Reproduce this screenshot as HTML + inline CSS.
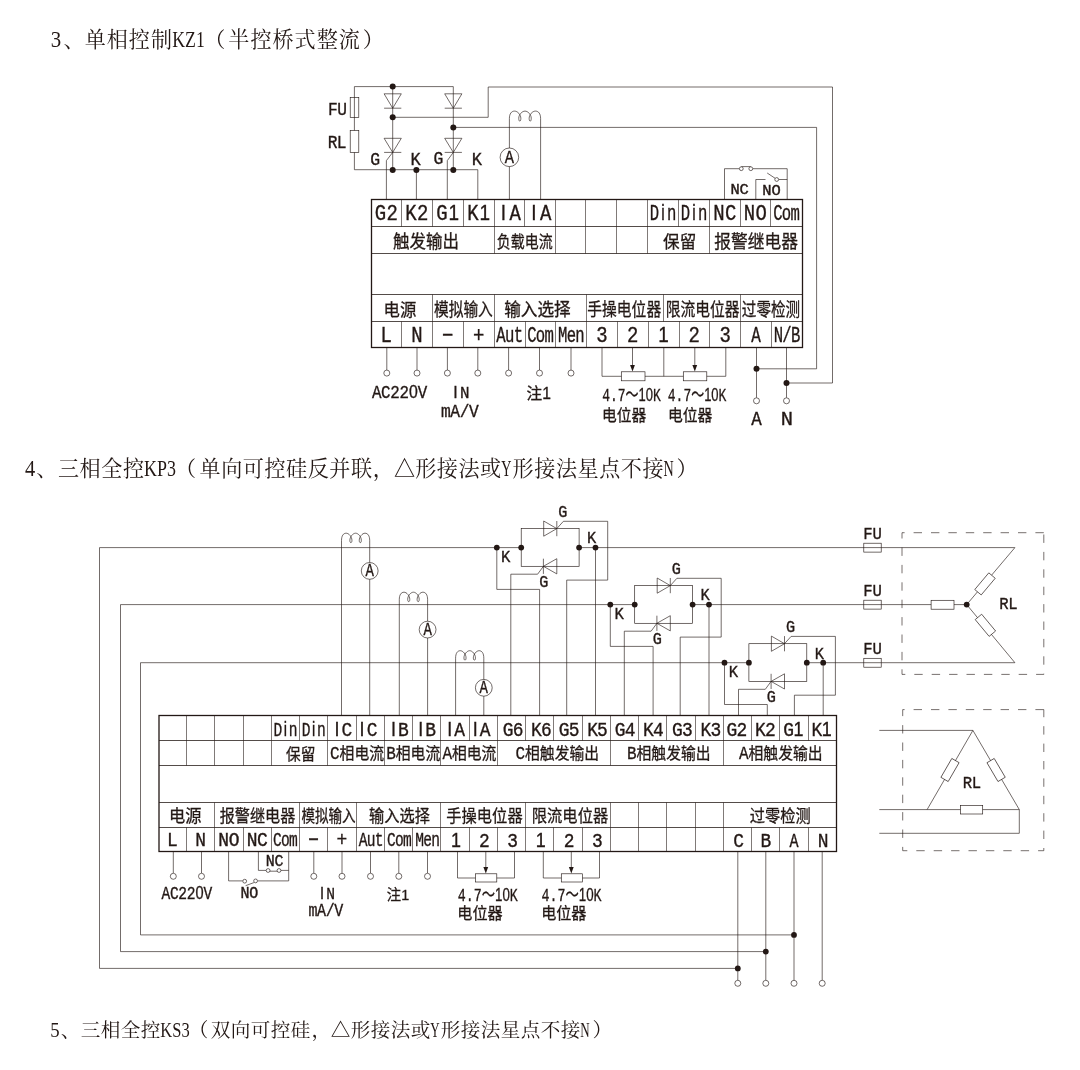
<!DOCTYPE html>
<html lang="zh-CN"><head><meta charset="utf-8"><title>接线图</title>
<style>
html,body{margin:0;padding:0;background:#fff}
svg{display:block}
.w{fill:none;stroke:#231815;stroke-width:0.64;stroke-linejoin:miter;stroke-linecap:butt}
.x{font-family:"Liberation Mono","Noto Sans CJK SC",monospace;fill:#231815;text-anchor:middle;stroke:#231815;stroke-width:.36;opacity:.999}
.x .b{stroke-width:.44}
.x .s{font-family:"Liberation Sans",sans-serif}
.c{font-family:"Liberation Sans","Noto Sans CJK SC",sans-serif;text-anchor:start;stroke-width:.3}
.m{font-family:"Liberation Mono","Noto Sans CJK SC",monospace;text-anchor:start;stroke-width:.3}
.t{font-family:"Liberation Serif","Noto Serif CJK SC",serif;text-anchor:start;font-weight:400;stroke:none}
</style></head><body>
<svg width="1080" height="1070" viewBox="0 0 1080 1070">
<rect width="1080" height="1070" fill="#fff"/>
<g class="w">
<path d="M453.3 86.6 L354.4 86.6 L354.4 169.7 L477.8 169.7 L477.8 199.4"/>
<rect x="350.2" y="97.4" width="8.6" height="20.2" fill="none"/>
<rect x="350.2" y="130.5" width="8.6" height="21.9" fill="#fff"/>
<path d="M392.7 86.6 L392.7 170"/>
<path d="M384.1 93.8 L401.3 93.8 L392.7 108.2 L384.1 93.8" fill="none"/>
<path d="M384.1 108.2 L401.3 108.2"/>
<path d="M384.1 138.3 L401.3 138.3 L392.7 152.4 L384.1 138.3" fill="none"/>
<path d="M384.1 152.4 L401.3 152.4"/>
<path d="M453.3 86.6 L453.3 170"/>
<path d="M444.7 93.8 L461.9 93.8 L453.3 108.2 L444.7 93.8" fill="none"/>
<path d="M444.7 108.2 L461.9 108.2"/>
<path d="M444.7 138.3 L461.9 138.3 L453.3 152.4 L444.7 138.3" fill="none"/>
<path d="M444.7 152.4 L461.9 152.4"/>
<path d="M392.7 152.4 L386.4 160.6 L386.4 199.4"/>
<path d="M453.3 152.4 L447.3 160.6 L447.3 199.4"/>
<path d="M416.4 170 L416.4 199.4"/>
<circle cx="392.7" cy="86.6" r="3" fill="#231815" stroke="none"/>
<circle cx="392.7" cy="117.3" r="3" fill="#231815" stroke="none"/>
<circle cx="453.3" cy="127.4" r="3" fill="#231815" stroke="none"/>
<circle cx="392.7" cy="170" r="3" fill="#231815" stroke="none"/>
<circle cx="416.4" cy="170" r="3" fill="#231815" stroke="none"/>
<circle cx="453.3" cy="170" r="3" fill="#231815" stroke="none"/>
<path d="M392.7 117.3 L488.2 117.3 L488.2 87 L832.5 87 L832.5 383 L786.5 383"/>
<path d="M453.3 127.4 L816.6 127.4 L816.6 368.8 L756.5 368.8"/>
<path d="M509.4 199.4 L509.4 118.6 C509.4 113.6 511.48 111.1 514.6 111.1 C517.51 111.1 520.85 114.6 520.85 118.3 C520.85 122.1 518.75 122.1 518.75 118.3 C518.75 114.6 522.09 111.1 525 111.1 C527.91 111.1 531.25 114.6 531.25 118.3 C531.25 122.1 529.15 122.1 529.15 118.3 C529.15 114.6 532.49 111.1 535.4 111.1 C538.52 111.1 540.6 113.6 540.6 118.6 L540.6 199.4"/>
<circle cx="509.4" cy="157.3" r="9.3" fill="#fff"/>
<path d="M724.5 199.4 L724.5 168.7 L739.2 168.7"/>
<path d="M752.9 168.7 L787.2 168.7 L787.2 199.4"/>
<path d="M741.3 166.6 L750.8 166.6"/>
<circle cx="741.3" cy="168.7" r="1.9" fill="#fff"/>
<circle cx="750.8" cy="168.7" r="1.9" fill="#fff"/>
<path d="M755.8 199.4 L755.8 179.5 L765.5 179.5"/>
<path d="M767.2 173 L775.6 178.6"/>
<path d="M778.7 179.5 L787.2 179.5"/>
<circle cx="776.7" cy="179.5" r="1.9" fill="#fff"/>
<path d="M371.5 226.5 L802.5 226.5" stroke-width="0.78"/>
<path d="M371.5 253.5 L802.5 253.5" stroke-width="0.78"/>
<path d="M371.5 294.5 L802.5 294.5" stroke-width="0.78"/>
<path d="M371.5 321.5 L802.5 321.5" stroke-width="0.78"/>
<path d="M401.5 199.5 L401.5 226.5" stroke-width="0.58"/>
<path d="M432.5 199.5 L432.5 226.5" stroke-width="0.58"/>
<path d="M463.5 199.5 L463.5 226.5" stroke-width="0.58"/>
<path d="M494.5 199.5 L494.5 226.5" stroke-width="0.58"/>
<path d="M524.5 199.5 L524.5 226.5" stroke-width="0.58"/>
<path d="M555.5 199.5 L555.5 226.5" stroke-width="0.58"/>
<path d="M585.5 199.5 L585.5 226.5" stroke-width="0.58"/>
<path d="M616.5 199.5 L616.5 226.5" stroke-width="0.58"/>
<path d="M647.5 199.5 L647.5 226.5" stroke-width="0.58"/>
<path d="M678.5 199.5 L678.5 226.5" stroke-width="0.58"/>
<path d="M709.5 199.5 L709.5 226.5" stroke-width="0.58"/>
<path d="M740.5 199.5 L740.5 226.5" stroke-width="0.58"/>
<path d="M770.5 199.5 L770.5 226.5" stroke-width="0.58"/>
<path d="M494.5 226.5 L494.5 253.5" stroke-width="0.58"/>
<path d="M555.5 226.5 L555.5 253.5" stroke-width="0.58"/>
<path d="M585.5 226.5 L585.5 253.5" stroke-width="0.58"/>
<path d="M616.5 226.5 L616.5 253.5" stroke-width="0.58"/>
<path d="M647.5 226.5 L647.5 253.5" stroke-width="0.58"/>
<path d="M709.5 226.5 L709.5 253.5" stroke-width="0.58"/>
<path d="M432.5 294.5 L432.5 321.5" stroke-width="0.58"/>
<path d="M494.5 294.5 L494.5 321.5" stroke-width="0.58"/>
<path d="M586.5 294.5 L586.5 321.5" stroke-width="0.58"/>
<path d="M663.5 294.5 L663.5 321.5" stroke-width="0.58"/>
<path d="M740.5 294.5 L740.5 321.5" stroke-width="0.58"/>
<path d="M401.5 321.5 L401.5 347.5" stroke-width="0.58"/>
<path d="M432.5 321.5 L432.5 347.5" stroke-width="0.58"/>
<path d="M463.5 321.5 L463.5 347.5" stroke-width="0.58"/>
<path d="M494.5 321.5 L494.5 347.5" stroke-width="0.58"/>
<path d="M525.5 321.5 L525.5 347.5" stroke-width="0.58"/>
<path d="M555.5 321.5 L555.5 347.5" stroke-width="0.58"/>
<path d="M586.5 321.5 L586.5 347.5" stroke-width="0.58"/>
<path d="M617.5 321.5 L617.5 347.5" stroke-width="0.58"/>
<path d="M648.5 321.5 L648.5 347.5" stroke-width="0.58"/>
<path d="M679.5 321.5 L679.5 347.5" stroke-width="0.58"/>
<path d="M709.5 321.5 L709.5 347.5" stroke-width="0.58"/>
<path d="M740.5 321.5 L740.5 347.5" stroke-width="0.58"/>
<path d="M771.5 321.5 L771.5 347.5" stroke-width="0.58"/>
<rect x="371.5" y="199.5" width="431" height="148" fill="none" stroke-width="1.3"/>
<path d="M386.8 347.6 L386.8 370"/>
<circle cx="386.8" cy="373.1" r="3" fill="#fff"/>
<path d="M417 347.6 L417 370"/>
<circle cx="417" cy="373.1" r="3" fill="#fff"/>
<path d="M447.4 347.6 L447.4 370"/>
<circle cx="447.4" cy="373.1" r="3" fill="#fff"/>
<path d="M477.8 347.6 L477.8 370"/>
<circle cx="477.8" cy="373.1" r="3" fill="#fff"/>
<path d="M508.6 347.6 L508.6 370"/>
<circle cx="508.6" cy="373.1" r="3" fill="#fff"/>
<path d="M539.5 347.6 L539.5 370"/>
<circle cx="539.5" cy="373.1" r="3" fill="#fff"/>
<path d="M571 347.6 L571 370"/>
<circle cx="571" cy="373.1" r="3" fill="#fff"/>
<path d="M602 347.6 L602 376.3 L725.8 376.3 L725.8 347.6"/>
<path d="M663.8 347.6 L663.8 376.3"/>
<rect x="621.3" y="371.8" width="23.7" height="9" fill="#fff"/>
<path d="M632.5 347.6 L632.5 368.8"/>
<path d="M630.1 365 L634.9 365 L632.5 371.6 Z" fill="#231815" stroke="none"/>
<rect x="683.3" y="371.8" width="23.5" height="9" fill="#fff"/>
<path d="M694.8 347.6 L694.8 368.8"/>
<path d="M692.4 365 L697.2 365 L694.8 371.6 Z" fill="#231815" stroke="none"/>
<path d="M756.5 347.6 L756.5 397.8"/>
<path d="M786.5 347.6 L786.5 397.8"/>
<circle cx="756.5" cy="368.8" r="3" fill="#231815" stroke="none"/>
<circle cx="786.5" cy="383" r="3" fill="#231815" stroke="none"/>
<circle cx="756.5" cy="400.8" r="3" fill="#fff"/>
<circle cx="786.5" cy="400.8" r="3" fill="#fff"/>
<path d="M794 934.9 L140.5 934.9 L140.5 662.7 L724.5 662.7"/>
<path d="M765.8 951.6 L120.5 951.6 L120.5 604.6 L610.3 604.6"/>
<path d="M737.8 968.4 L99.5 968.4 L99.5 547.6 L496.8 547.6"/>
<path d="M496.8 547.6 L521.2 547.6"/>
<path d="M579.1 547.6 L595.5 547.6"/>
<rect x="521.2" y="528.6" width="57.9" height="37.7" fill="none"/>
<path d="M543.7 521 L543.7 536.2 L556.8 528.6 L543.7 521" fill="none"/>
<path d="M556.8 521 L556.8 536.2"/>
<path d="M556.8 528.6 L563.4 521.3 L607.7 521.3 L607.7 580.1 L566.7 580.1 L566.7 715.7"/>
<path d="M556.8 558.7 L556.8 573.9 L543.4 566.3 L556.8 558.7" fill="none"/>
<path d="M543.4 558.7 L543.4 573.9"/>
<path d="M543.4 566.3 L537.6 574.2 L510.8 574.2 L510.8 715.7"/>
<path d="M496.8 547.6 L496.8 589.4 L539.6 589.4 L539.6 715.7"/>
<path d="M595.5 547.6 L595.5 715.7"/>
<circle cx="496.8" cy="547.6" r="2.9" fill="#231815" stroke="none"/>
<circle cx="521.2" cy="547.6" r="2.9" fill="#231815" stroke="none"/>
<circle cx="579.1" cy="547.6" r="2.9" fill="#231815" stroke="none"/>
<circle cx="595.5" cy="547.6" r="2.9" fill="#231815" stroke="none"/>
<path d="M595.5 547.6 L881.2 547.6"/>
<rect x="863.8" y="543.2" width="17.4" height="8.9" fill="none"/>
<path d="M610.3 604.6 L634.7 604.6"/>
<path d="M692.6 604.6 L709 604.6"/>
<rect x="634.7" y="585.6" width="57.9" height="37.7" fill="none"/>
<path d="M657.2 578 L657.2 593.2 L670.3 585.6 L657.2 578" fill="none"/>
<path d="M670.3 578 L670.3 593.2"/>
<path d="M670.3 585.6 L676.9 578.3 L721.2 578.3 L721.2 637.1 L680.2 637.1 L680.2 715.7"/>
<path d="M670.3 615.7 L670.3 630.9 L656.9 623.3 L670.3 615.7" fill="none"/>
<path d="M656.9 615.7 L656.9 630.9"/>
<path d="M656.9 623.3 L651.1 631.2 L624.3 631.2 L624.3 715.7"/>
<path d="M610.3 604.6 L610.3 646.4 L653.1 646.4 L653.1 715.7"/>
<path d="M709 604.6 L709 715.7"/>
<circle cx="610.3" cy="604.6" r="2.9" fill="#231815" stroke="none"/>
<circle cx="634.7" cy="604.6" r="2.9" fill="#231815" stroke="none"/>
<circle cx="692.6" cy="604.6" r="2.9" fill="#231815" stroke="none"/>
<circle cx="709" cy="604.6" r="2.9" fill="#231815" stroke="none"/>
<path d="M709 604.6 L881.2 604.6"/>
<rect x="863.8" y="600.2" width="17.4" height="8.9" fill="none"/>
<path d="M724.5 662.7 L748.9 662.7"/>
<path d="M806.8 662.7 L823.2 662.7"/>
<rect x="748.9" y="643.7" width="57.9" height="37.7" fill="none"/>
<path d="M771.4 636.1 L771.4 651.3 L784.5 643.7 L771.4 636.1" fill="none"/>
<path d="M784.5 636.1 L784.5 651.3"/>
<path d="M784.5 643.7 L791.1 636.4 L835.4 636.4 L835.4 695.2 L794.4 695.2 L794.4 715.7"/>
<path d="M784.5 673.8 L784.5 689 L771.1 681.4 L784.5 673.8" fill="none"/>
<path d="M771.1 673.8 L771.1 689"/>
<path d="M771.1 681.4 L765.3 689.3 L738.5 689.3 L738.5 715.7"/>
<path d="M724.5 662.7 L724.5 704.5 L767.3 704.5 L767.3 715.7"/>
<path d="M823.2 662.7 L823.2 715.7"/>
<circle cx="724.5" cy="662.7" r="2.9" fill="#231815" stroke="none"/>
<circle cx="748.9" cy="662.7" r="2.9" fill="#231815" stroke="none"/>
<circle cx="806.8" cy="662.7" r="2.9" fill="#231815" stroke="none"/>
<circle cx="823.2" cy="662.7" r="2.9" fill="#231815" stroke="none"/>
<path d="M823.2 662.7 L881.2 662.7"/>
<rect x="863.8" y="658.3" width="17.4" height="8.9" fill="none"/>
<path d="M341.5 715.7 L341.5 540.7 C341.5 535.7 343.38 533.2 346.2 533.2 C348.83 533.2 351.95 536.7 351.95 540.4 C351.95 543.4 349.85 543.4 349.85 540.4 C349.85 536.7 352.97 533.2 355.6 533.2 C358.23 533.2 361.35 536.7 361.35 540.4 C361.35 543.4 359.25 543.4 359.25 540.4 C359.25 536.7 362.37 533.2 365 533.2 C367.82 533.2 369.7 535.7 369.7 540.7 L369.7 715.7"/>
<circle cx="369.7" cy="570.9" r="8.4" fill="#fff"/>
<path d="M399.3 715.7 L399.3 599.7 C399.3 594.7 401.19 592.2 404.02 592.2 C406.66 592.2 409.78 595.7 409.78 599.4 C409.78 602.4 407.68 602.4 407.68 599.4 C407.68 595.7 410.81 592.2 413.45 592.2 C416.09 592.2 419.22 595.7 419.22 599.4 C419.22 602.4 417.12 602.4 417.12 599.4 C417.12 595.7 420.24 592.2 422.88 592.2 C425.71 592.2 427.6 594.7 427.6 599.7 L427.6 715.7"/>
<circle cx="427.6" cy="629.6" r="8.4" fill="#fff"/>
<path d="M455.6 715.7 L455.6 658.2 C455.6 653.2 457.48 650.7 460.3 650.7 C462.93 650.7 466.05 654.2 466.05 657.9 C466.05 660.9 463.95 660.9 463.95 657.9 C463.95 654.2 467.07 650.7 469.7 650.7 C472.33 650.7 475.45 654.2 475.45 657.9 C475.45 660.9 473.35 660.9 473.35 657.9 C473.35 654.2 476.47 650.7 479.1 650.7 C481.92 650.7 483.8 653.2 483.8 658.2 L483.8 715.7"/>
<circle cx="483.8" cy="687.8" r="8.4" fill="#fff"/>
<path d="M1043.8 532.7 H902 V674.4 H1043.8 Z" fill="none" stroke-dasharray="8.4 9" stroke-width="0.62"/>
<path d="M881.2 547.6 L1014.9 547.6 L966.7 604.6"/>
<path d="M881.2 662.7 L1014.9 662.7 L966.7 604.6"/>
<path d="M881.2 604.6 L966.7 604.6"/>
<rect x="931.1" y="600.3" width="22.9" height="8.9" fill="#fff"/>
<rect x="974.1" y="579.7" width="21.8" height="8.4" fill="#fff" transform="rotate(-49.9 985 583.9)"/>
<rect x="974.5" y="621.1" width="21.8" height="8.4" fill="#fff" transform="rotate(50.3 985.4 625.3)"/>
<circle cx="966.7" cy="604.6" r="2.9" fill="#231815" stroke="none"/>
<path d="M1043.8 709.6 H902.7 V850.7 H1043.8 Z" fill="none" stroke-dasharray="8.4 9" stroke-width="0.62"/>
<path d="M879.3 730.4 L972.9 730.4"/>
<path d="M879.3 809.6 L1019.3 809.6 L972.9 730.4 L927.1 809.6" fill="none"/>
<path d="M879.3 833.3 L1019.3 833.3 L1019.3 809.6"/>
<rect x="960.4" y="805.5" width="22.3" height="8.5" fill="#fff"/>
<rect x="939.1" y="765.8" width="21.8" height="8.4" fill="#fff" transform="rotate(-60 950 770)"/>
<rect x="985.2" y="765.8" width="21.8" height="8.4" fill="#fff" transform="rotate(59.6 996.1 770)"/>
<path d="M159 740.5 L836.5 740.5" stroke-width="0.78"/>
<path d="M159 765.5 L836.5 765.5" stroke-width="0.78"/>
<path d="M159 802.5 L836.5 802.5" stroke-width="0.78"/>
<path d="M159 827.5 L836.5 827.5" stroke-width="0.78"/>
<path d="M186.5 715.5 L186.5 740.5" stroke-width="0.58"/>
<path d="M214.5 715.5 L214.5 740.5" stroke-width="0.58"/>
<path d="M243.5 715.5 L243.5 740.5" stroke-width="0.58"/>
<path d="M271.5 715.5 L271.5 740.5" stroke-width="0.58"/>
<path d="M299.5 715.5 L299.5 740.5" stroke-width="0.58"/>
<path d="M327.5 715.5 L327.5 740.5" stroke-width="0.58"/>
<path d="M356.5 715.5 L356.5 740.5" stroke-width="0.58"/>
<path d="M384.5 715.5 L384.5 740.5" stroke-width="0.58"/>
<path d="M412.5 715.5 L412.5 740.5" stroke-width="0.58"/>
<path d="M440.5 715.5 L440.5 740.5" stroke-width="0.58"/>
<path d="M469.5 715.5 L469.5 740.5" stroke-width="0.58"/>
<path d="M497.5 715.5 L497.5 740.5" stroke-width="0.58"/>
<path d="M525.5 715.5 L525.5 740.5" stroke-width="0.58"/>
<path d="M553.5 715.5 L553.5 740.5" stroke-width="0.58"/>
<path d="M582.5 715.5 L582.5 740.5" stroke-width="0.58"/>
<path d="M610.5 715.5 L610.5 740.5" stroke-width="0.58"/>
<path d="M638.5 715.5 L638.5 740.5" stroke-width="0.58"/>
<path d="M666.5 715.5 L666.5 740.5" stroke-width="0.58"/>
<path d="M695.5 715.5 L695.5 740.5" stroke-width="0.58"/>
<path d="M723.5 715.5 L723.5 740.5" stroke-width="0.58"/>
<path d="M751.5 715.5 L751.5 740.5" stroke-width="0.58"/>
<path d="M779.5 715.5 L779.5 740.5" stroke-width="0.58"/>
<path d="M808.5 715.5 L808.5 740.5" stroke-width="0.58"/>
<path d="M186.5 740.5 L186.5 765.5" stroke-width="0.58"/>
<path d="M214.5 740.5 L214.5 765.5" stroke-width="0.58"/>
<path d="M243.5 740.5 L243.5 765.5" stroke-width="0.58"/>
<path d="M271.5 740.5 L271.5 765.5" stroke-width="0.58"/>
<path d="M327.5 740.5 L327.5 765.5" stroke-width="0.58"/>
<path d="M384.5 740.5 L384.5 765.5" stroke-width="0.58"/>
<path d="M440.5 740.5 L440.5 765.5" stroke-width="0.58"/>
<path d="M497.5 740.5 L497.5 765.5" stroke-width="0.58"/>
<path d="M610.5 740.5 L610.5 765.5" stroke-width="0.58"/>
<path d="M723.5 740.5 L723.5 765.5" stroke-width="0.58"/>
<path d="M214.5 802.5 L214.5 827.5" stroke-width="0.58"/>
<path d="M299.5 802.5 L299.5 827.5" stroke-width="0.58"/>
<path d="M356.5 802.5 L356.5 827.5" stroke-width="0.58"/>
<path d="M440.5 802.5 L440.5 827.5" stroke-width="0.58"/>
<path d="M525.5 802.5 L525.5 827.5" stroke-width="0.58"/>
<path d="M610.5 802.5 L610.5 827.5" stroke-width="0.58"/>
<path d="M638.5 802.5 L638.5 827.5" stroke-width="0.58"/>
<path d="M666.5 802.5 L666.5 827.5" stroke-width="0.58"/>
<path d="M695.5 802.5 L695.5 827.5" stroke-width="0.58"/>
<path d="M723.5 802.5 L723.5 827.5" stroke-width="0.58"/>
<path d="M186.5 827.5 L186.5 851.5" stroke-width="0.58"/>
<path d="M214.5 827.5 L214.5 851.5" stroke-width="0.58"/>
<path d="M243.5 827.5 L243.5 851.5" stroke-width="0.58"/>
<path d="M271.5 827.5 L271.5 851.5" stroke-width="0.58"/>
<path d="M299.5 827.5 L299.5 851.5" stroke-width="0.58"/>
<path d="M327.5 827.5 L327.5 851.5" stroke-width="0.58"/>
<path d="M356.5 827.5 L356.5 851.5" stroke-width="0.58"/>
<path d="M384.5 827.5 L384.5 851.5" stroke-width="0.58"/>
<path d="M412.5 827.5 L412.5 851.5" stroke-width="0.58"/>
<path d="M440.5 827.5 L440.5 851.5" stroke-width="0.58"/>
<path d="M469.5 827.5 L469.5 851.5" stroke-width="0.58"/>
<path d="M497.5 827.5 L497.5 851.5" stroke-width="0.58"/>
<path d="M525.5 827.5 L525.5 851.5" stroke-width="0.58"/>
<path d="M553.5 827.5 L553.5 851.5" stroke-width="0.58"/>
<path d="M582.5 827.5 L582.5 851.5" stroke-width="0.58"/>
<path d="M610.5 827.5 L610.5 851.5" stroke-width="0.58"/>
<path d="M638.5 827.5 L638.5 851.5" stroke-width="0.58"/>
<path d="M666.5 827.5 L666.5 851.5" stroke-width="0.58"/>
<path d="M695.5 827.5 L695.5 851.5" stroke-width="0.58"/>
<path d="M723.5 827.5 L723.5 851.5" stroke-width="0.58"/>
<path d="M751.5 827.5 L751.5 851.5" stroke-width="0.58"/>
<path d="M779.5 827.5 L779.5 851.5" stroke-width="0.58"/>
<path d="M808.5 827.5 L808.5 851.5" stroke-width="0.58"/>
<rect x="159" y="715.5" width="677.5" height="136" fill="none" stroke-width="1.3"/>
<path d="M173.3 851.4 L173.3 873.2"/>
<circle cx="173.3" cy="876.3" r="3" fill="#fff"/>
<path d="M201.5 851.4 L201.5 873.2"/>
<circle cx="201.5" cy="876.3" r="3" fill="#fff"/>
<path d="M313.8 851.4 L313.8 873.2"/>
<circle cx="313.8" cy="876.3" r="3" fill="#fff"/>
<path d="M342 851.4 L342 873.2"/>
<circle cx="342" cy="876.3" r="3" fill="#fff"/>
<path d="M370.5 851.4 L370.5 873.2"/>
<circle cx="370.5" cy="876.3" r="3" fill="#fff"/>
<path d="M398.8 851.4 L398.8 873.2"/>
<circle cx="398.8" cy="876.3" r="3" fill="#fff"/>
<path d="M427.5 851.4 L427.5 873.2"/>
<circle cx="427.5" cy="876.3" r="3" fill="#fff"/>
<path d="M228.6 851.4 L228.6 880.9 L242.7 880.9"/>
<path d="M257.6 880.9 L288.7 880.9 L288.7 851.4"/>
<path d="M253.9 882.6 L245.6 885.7"/>
<circle cx="244.7" cy="881.2" r="1.9" fill="#fff"/>
<circle cx="255.6" cy="880.9" r="1.9" fill="#fff"/>
<path d="M258.4 851.4 L258.4 870.4 L266.1 870.4"/>
<path d="M268.1 871.2 L279 871.2"/>
<path d="M281 870.4 L288.7 870.4"/>
<circle cx="268.1" cy="870.5" r="1.9" fill="#fff"/>
<circle cx="279" cy="870.5" r="1.9" fill="#fff"/>
<path d="M457.5 851.4 L457.5 878 L514.5 878 L514.5 851.4"/>
<rect x="475.5" y="873.8" width="21.3" height="8.2" fill="#fff"/>
<path d="M485.8 851.4 L485.8 870.5"/>
<path d="M483.4 867 L488.2 867 L485.8 873.6 Z" fill="#231815" stroke="none"/>
<path d="M543.3 851.4 L543.3 878 L599.5 878 L599.5 851.4"/>
<rect x="561.3" y="873.8" width="21.2" height="8.2" fill="#fff"/>
<path d="M571.3 851.4 L571.3 870.5"/>
<path d="M568.9 867 L573.7 867 L571.3 873.6 Z" fill="#231815" stroke="none"/>
<path d="M737.8 851.4 L737.8 980.3"/>
<circle cx="737.8" cy="983.3" r="3" fill="#fff"/>
<path d="M765.8 851.4 L765.8 980.3"/>
<circle cx="765.8" cy="983.3" r="3" fill="#fff"/>
<path d="M794 851.4 L794 980.3"/>
<circle cx="794" cy="983.3" r="3" fill="#fff"/>
<path d="M822.2 851.4 L822.2 980.3"/>
<circle cx="822.2" cy="983.3" r="3" fill="#fff"/>
<circle cx="794" cy="934.9" r="2.9" fill="#231815" stroke="none"/>
<circle cx="765.8" cy="951.6" r="2.9" fill="#231815" stroke="none"/>
<circle cx="737.8" cy="968.4" r="2.9" fill="#231815" stroke="none"/>
</g>
<g class="x">
<text transform="translate(386.3 220.3) scale(0.863 1)" font-size="21.97" x="-6.9 6.9">G2</text>
<text transform="translate(416.8 220.3) scale(0.863 1)" font-size="21.97" x="-6.9 6.9">K2</text>
<text transform="translate(447.8 220.3) scale(0.863 1)" font-size="21.97" x="-6.9 6.9">G<tspan class="s">1</tspan></text>
<text transform="translate(478.8 220.3) scale(0.863 1)" font-size="21.97" x="-6.9 6.9">K<tspan class="s">1</tspan></text>
<text transform="translate(509.3 220.3) scale(0.863 1)" font-size="21.97" x="-6.9 6.9"><tspan class="s">I</tspan>A</text>
<text transform="translate(539.8 220.3) scale(0.863 1)" font-size="21.97" x="-6.9 6.9"><tspan class="s">I</tspan>A</text>
<text transform="translate(663 220.3) scale(0.711 1)" font-size="21.97" x="-12.16 0 12.16">D<tspan class="s">i</tspan>n</text>
<text transform="translate(694 220.3) scale(0.711 1)" font-size="21.97" x="-12.16 0 12.16">D<tspan class="s">i</tspan>n</text>
<text transform="translate(724.8 220.3) scale(0.863 1)" font-size="21.97" x="-6.9 6.9">NC</text>
<text transform="translate(755.3 220.3) scale(0.863 1)" font-size="21.97" x="-6.9 6.9">NO</text>
<text transform="translate(786.5 220.3) scale(0.711 1)" font-size="21.97" x="-12.16 0 12.16">Com</text>
<text transform="translate(386.14 342.1) scale(0.863 1)" font-size="21.97" x="0">L</text>
<text transform="translate(416.95 342.1) scale(0.863 1)" font-size="21.97" x="0">N</text>
<text transform="translate(447.76 342.1) scale(0.863 1)" font-size="21.97" x="0">−</text>
<text transform="translate(478.58 342.1) scale(0.863 1)" font-size="21.97" x="0">+</text>
<text transform="translate(509.69 342.1) scale(0.711 1)" font-size="21.97" x="-12.16 0 12.16">Aut</text>
<text transform="translate(540.51 342.1) scale(0.711 1)" font-size="21.97" x="-12.16 0 12.16">Com</text>
<text transform="translate(571.32 342.1) scale(0.711 1)" font-size="21.97" x="-12.16 0 12.16">Men</text>
<text transform="translate(601.84 342.1) scale(0.863 1)" font-size="21.97" x="0">3</text>
<text transform="translate(632.65 342.1) scale(0.863 1)" font-size="21.97" x="0">2</text>
<text transform="translate(663.46 342.1) scale(0.863 1)" font-size="21.97" x="0"><tspan class="s">1</tspan></text>
<text transform="translate(694.28 342.1) scale(0.863 1)" font-size="21.97" x="0">2</text>
<text transform="translate(725.09 342.1) scale(0.863 1)" font-size="21.97" x="0">3</text>
<text transform="translate(755.9 342.1) scale(0.725 1)" font-size="21.97" x="0">A</text>
<text transform="translate(787.02 342.1) scale(0.711 1)" font-size="21.97" x="-12.16 0 12.16">N/B</text>
<text class="c" x="392.97" y="247.95" font-size="18.3" textLength="65.95" lengthAdjust="spacingAndGlyphs">触发输出</text>
<text class="c" x="496.79" y="248.28" font-size="17.6" textLength="55.83" lengthAdjust="spacingAndGlyphs">负载电流</text>
<text class="c" x="663.09" y="247.88" font-size="17.6" textLength="33.13" lengthAdjust="spacingAndGlyphs">保留</text>
<text class="c" x="714.26" y="248.03" font-size="18" textLength="83.68" lengthAdjust="spacingAndGlyphs">报警继电器</text>
<text class="c" x="383.49" y="316.08" font-size="17.6" textLength="32.81" lengthAdjust="spacingAndGlyphs">电源</text>
<text class="c" x="433.95" y="316.15" font-size="17.8" textLength="58.9" lengthAdjust="spacingAndGlyphs">模拟输入</text>
<text class="c" x="504.17" y="316.23" font-size="18" textLength="66.56" lengthAdjust="spacingAndGlyphs">输入选择</text>
<text class="c" x="587.35" y="316.15" font-size="17.8" textLength="73.81" lengthAdjust="spacingAndGlyphs">手操电位器</text>
<text class="c" x="665.65" y="316.15" font-size="17.8" textLength="73.81" lengthAdjust="spacingAndGlyphs">限流电位器</text>
<text class="c" x="741.86" y="316.15" font-size="17.8" textLength="58.28" lengthAdjust="spacingAndGlyphs">过零检测</text>
<text transform="translate(337.5 114.6) scale(0.879 1)" font-size="18.48" x="-5.29 5.29">FU</text>
<text transform="translate(337.1 147.8) scale(0.879 1)" font-size="18.48" x="-5.12 5.12">RL</text>
<text transform="translate(375.3 164.8) scale(0.876 1)" font-size="18.79" x="0">G</text>
<text transform="translate(415.5 164.8) scale(0.909 1)" font-size="18.79" x="0">K</text>
<text transform="translate(438.4 164.4) scale(0.890 1)" font-size="18.48" x="0">G</text>
<text transform="translate(476.9 164.8) scale(0.924 1)" font-size="18.48" x="0">K</text>
<text transform="translate(509.4 163) scale(0.807 1)" font-size="19.09" x="0">A</text>
<text transform="translate(739.6 193.7) scale(0.998 1)" font-size="15.45" x="-4.51 4.51" class="b">NC</text>
<text transform="translate(771.5 194.6) scale(0.998 1)" font-size="15.45" x="-4.61 4.61" class="b">NO</text>
<text transform="translate(399.6 397.7) scale(0.850 1)" font-size="18.64" x="-26.92 -16.15 -5.38 5.38 16.15 26.92">AC22<tspan class="s">0</tspan>V</text>
<text transform="translate(460.1 398) scale(0.909 1)" font-size="17.42" x="-5.06 5.06"><tspan class="s">I</tspan>N</text>
<text transform="translate(459.9 416.5) scale(0.872 1)" font-size="18.64" x="-16.17 -5.39 5.39 16.17">mA/V</text>
<text class="m" x="526.6" y="398.6" font-size="16" textLength="24.4" lengthAdjust="spacingAndGlyphs">注<tspan class="s">1</tspan></text>
<text class="m" x="602.2" y="400.8" font-size="18.4" textLength="58.6" lengthAdjust="spacingAndGlyphs">4.7～<tspan class="s">10</tspan>K</text>
<text class="m" x="667.8" y="400.8" font-size="18.4" textLength="58.6" lengthAdjust="spacingAndGlyphs">4.7～<tspan class="s">10</tspan>K</text>
<text class="c" x="601.96" y="420.54" font-size="16.2" textLength="44.19" lengthAdjust="spacingAndGlyphs">电位器</text>
<text class="c" x="667.95" y="420.54" font-size="16.2" textLength="44.39" lengthAdjust="spacingAndGlyphs">电位器</text>
<text transform="translate(756.4 425.2) scale(0.862 1)" font-size="20.3" x="0">A</text>
<text transform="translate(787 425.2) scale(1.006 1)" font-size="20.3" x="0">N</text>
<text transform="translate(562.8 516.5) scale(0.873 1)" font-size="17.42" x="0">G</text>
<text transform="translate(591.6 543.4) scale(0.900 1)" font-size="17.12" x="0">K</text>
<text transform="translate(505.8 561.6) scale(0.913 1)" font-size="17.12" x="0">K</text>
<text transform="translate(543.7 586.6) scale(0.888 1)" font-size="17.12" x="0">G</text>
<text transform="translate(872.6 539) scale(0.897 1)" font-size="17.42" x="-5.19 5.19">FU</text>
<text transform="translate(676.3 573.5) scale(0.873 1)" font-size="17.42" x="0">G</text>
<text transform="translate(705.1 600.4) scale(0.900 1)" font-size="17.12" x="0">K</text>
<text transform="translate(619.3 618.6) scale(0.913 1)" font-size="17.12" x="0">K</text>
<text transform="translate(657.2 643.6) scale(0.888 1)" font-size="17.12" x="0">G</text>
<text transform="translate(872.6 596) scale(0.897 1)" font-size="17.42" x="-5.19 5.19">FU</text>
<text transform="translate(790.5 631.6) scale(0.873 1)" font-size="17.42" x="0">G</text>
<text transform="translate(819.3 658.5) scale(0.900 1)" font-size="17.12" x="0">K</text>
<text transform="translate(733.5 676.7) scale(0.913 1)" font-size="17.12" x="0">K</text>
<text transform="translate(771.4 701.7) scale(0.888 1)" font-size="17.12" x="0">G</text>
<text transform="translate(872.6 654.1) scale(0.897 1)" font-size="17.42" x="-5.19 5.19">FU</text>
<text transform="translate(369.7 575.9) scale(0.797 1)" font-size="17.58" x="0">A</text>
<text transform="translate(427.6 634.6) scale(0.797 1)" font-size="17.58" x="0">A</text>
<text transform="translate(483.8 692.8) scale(0.797 1)" font-size="17.58" x="0">A</text>
<text transform="translate(1008.5 609) scale(0.897 1)" font-size="17.42" x="-5.02 5.02">RL</text>
<text transform="translate(971.9 787.9) scale(0.897 1)" font-size="17.42" x="-5.02 5.02">RL</text>
<text transform="translate(285.46 735.5) scale(0.703 1)" font-size="20.76" x="-10.96 0 10.96">D<tspan class="s">i</tspan>n</text>
<text transform="translate(313.72 735.5) scale(0.703 1)" font-size="20.76" x="-10.96 0 10.96">D<tspan class="s">i</tspan>n</text>
<text transform="translate(341.98 735.5) scale(0.863 1)" font-size="20.76" x="-5.79 5.79"><tspan class="s">I</tspan>C</text>
<text transform="translate(367.04 735.5) scale(0.863 1)" font-size="20.76" x="-5.79 5.79"><tspan class="s">I</tspan>C</text>
<text transform="translate(398.49 735.5) scale(0.863 1)" font-size="20.76" x="-5.79 5.79"><tspan class="s">I</tspan>B</text>
<text transform="translate(425.75 735.5) scale(0.863 1)" font-size="20.76" x="-5.79 5.79"><tspan class="s">I</tspan>B</text>
<text transform="translate(454.71 735.5) scale(0.863 1)" font-size="20.76" x="-5.79 5.79"><tspan class="s">I</tspan>A</text>
<text transform="translate(480.17 735.5) scale(0.863 1)" font-size="20.76" x="-5.79 5.79"><tspan class="s">I</tspan>A</text>
<text transform="translate(513.23 735.5) scale(0.863 1)" font-size="20.76" x="-5.79 5.79">G6</text>
<text transform="translate(541.28 735.5) scale(0.863 1)" font-size="20.76" x="-5.79 5.79">K6</text>
<text transform="translate(569.04 735.5) scale(0.863 1)" font-size="20.76" x="-5.79 5.79">G5</text>
<text transform="translate(597.5 735.5) scale(0.863 1)" font-size="20.76" x="-5.79 5.79">K5</text>
<text transform="translate(625.16 735.5) scale(0.863 1)" font-size="20.76" x="-5.79 5.79">G4</text>
<text transform="translate(653.42 735.5) scale(0.863 1)" font-size="20.76" x="-5.79 5.79">K4</text>
<text transform="translate(682.47 735.5) scale(0.863 1)" font-size="20.76" x="-5.79 5.79">G3</text>
<text transform="translate(710.83 735.5) scale(0.863 1)" font-size="20.76" x="-5.79 5.79">K3</text>
<text transform="translate(736.89 735.5) scale(0.863 1)" font-size="20.76" x="-5.79 5.79">G2</text>
<text transform="translate(765.45 735.5) scale(0.863 1)" font-size="20.76" x="-5.79 5.79">K2</text>
<text transform="translate(793.61 735.5) scale(0.863 1)" font-size="20.76" x="-5.79 5.79">G<tspan class="s">1</tspan></text>
<text transform="translate(821.86 735.5) scale(0.863 1)" font-size="20.76" x="-5.79 5.79">K<tspan class="s">1</tspan></text>
<text transform="translate(172.43 845.5) scale(0.869 1)" font-size="20.61" x="0">L</text>
<text transform="translate(200.69 845.5) scale(0.869 1)" font-size="20.61" x="0">N</text>
<text transform="translate(228.94 845.5) scale(0.869 1)" font-size="20.61" x="-5.98 5.98" class="b">NO</text>
<text transform="translate(257.2 845.5) scale(0.869 1)" font-size="20.61" x="-5.98 5.98" class="b">NC</text>
<text transform="translate(285.46 845.5) scale(0.713 1)" font-size="20.45" x="-11.22 0 11.22">Com</text>
<text transform="translate(313.72 845.5) scale(0.869 1)" font-size="20.61" x="0">−</text>
<text transform="translate(341.98 845.5) scale(0.869 1)" font-size="20.61" x="0">+</text>
<text transform="translate(371.24 845.5) scale(0.713 1)" font-size="20.45" x="-11.22 0 11.22">Aut</text>
<text transform="translate(399.39 845.5) scale(0.713 1)" font-size="20.45" x="-11.22 0 11.22">Com</text>
<text transform="translate(427.55 845.5) scale(0.713 1)" font-size="20.45" x="-11.22 0 11.22">Men</text>
<text transform="translate(456.01 846.5) scale(0.869 1)" font-size="20.61" x="0"><tspan class="s">1</tspan></text>
<text transform="translate(484.27 846.5) scale(0.869 1)" font-size="20.61" x="0">2</text>
<text transform="translate(512.52 846.5) scale(0.869 1)" font-size="20.61" x="0">3</text>
<text transform="translate(540.78 846.5) scale(0.869 1)" font-size="20.61" x="0"><tspan class="s">1</tspan></text>
<text transform="translate(569.04 846.5) scale(0.869 1)" font-size="20.61" x="0">2</text>
<text transform="translate(597.3 846.5) scale(0.869 1)" font-size="20.61" x="0">3</text>
<text transform="translate(738.59 846.7) scale(0.869 1)" font-size="20.61" x="0">C</text>
<text transform="translate(765.85 846.7) scale(0.869 1)" font-size="20.61" x="0">B</text>
<text transform="translate(794.11 846.7) scale(0.730 1)" font-size="20.61" x="0">A</text>
<text transform="translate(823.16 846.7) scale(0.869 1)" font-size="20.61" x="0">N</text>
<text class="c" x="286.07" y="759.58" font-size="16.3" textLength="29.26" lengthAdjust="spacingAndGlyphs">保留</text>
<text class="m" x="330.0" y="759.2" font-size="16.3" textLength="54.0" lengthAdjust="spacingAndGlyphs"><tspan font-size="17.6">C</tspan>相电流</text>
<text class="m" x="386.2" y="759.2" font-size="16.3" textLength="54.0" lengthAdjust="spacingAndGlyphs"><tspan font-size="17.6">B</tspan>相电流</text>
<text class="m" x="442.4" y="759.2" font-size="16.3" textLength="54.0" lengthAdjust="spacingAndGlyphs"><tspan font-size="17.6">A</tspan>相电流</text>
<text class="m" x="515.5" y="759.2" font-size="16.3" textLength="83.5" lengthAdjust="spacingAndGlyphs"><tspan font-size="17.6">C</tspan>相触发输出</text>
<text class="m" x="627.0" y="759.2" font-size="16.3" textLength="83.5" lengthAdjust="spacingAndGlyphs"><tspan font-size="17.6">B</tspan>相触发输出</text>
<text class="m" x="739.0" y="759.2" font-size="16.3" textLength="83.5" lengthAdjust="spacingAndGlyphs"><tspan font-size="17.6">A</tspan>相触发输出</text>
<text class="c" x="169" y="821.89" font-size="16.6" textLength="32.5" lengthAdjust="spacingAndGlyphs">电源</text>
<text class="c" x="219.63" y="821.89" font-size="16.6" textLength="75.74" lengthAdjust="spacingAndGlyphs">报警继电器</text>
<text class="c" x="301.4" y="821.89" font-size="16.6" textLength="54.19" lengthAdjust="spacingAndGlyphs">模拟输入</text>
<text class="c" x="368.93" y="821.89" font-size="16.6" textLength="60.94" lengthAdjust="spacingAndGlyphs">输入选择</text>
<text class="c" x="446.32" y="821.89" font-size="16.6" textLength="76.35" lengthAdjust="spacingAndGlyphs">手操电位器</text>
<text class="c" x="531.83" y="821.89" font-size="16.6" textLength="76.35" lengthAdjust="spacingAndGlyphs">限流电位器</text>
<text class="c" x="749.83" y="821.89" font-size="16.6" textLength="60.84" lengthAdjust="spacingAndGlyphs">过零检测</text>
<text transform="translate(274.6 865.6) scale(0.934 1)" font-size="16.06" x="-4.71 4.71" class="b">NC</text>
<text transform="translate(249.4 897.8) scale(0.934 1)" font-size="16.06" x="-4.6 4.6" class="b">NO</text>
<text transform="translate(186.9 898.9) scale(0.802 1)" font-size="18.18" x="-26.18 -15.71 -5.24 5.24 15.71 26.18">AC22<tspan class="s">0</tspan>V</text>
<text transform="translate(326.2 898.9) scale(0.852 1)" font-size="17.12" x="-5.05 5.05"><tspan class="s">I</tspan>N</text>
<text transform="translate(325.9 915.8) scale(0.825 1)" font-size="18.18" x="-15.64 -5.21 5.21 15.64">mA/V</text>
<text class="m" x="386.8" y="899.8" font-size="15" textLength="22.3" lengthAdjust="spacingAndGlyphs">注<tspan class="s">1</tspan></text>
<text class="m" x="457.8" y="900.8" font-size="17.8" textLength="60.0" lengthAdjust="spacingAndGlyphs">4.7～<tspan class="s">10</tspan>K</text>
<text class="m" x="541.6" y="900.8" font-size="17.8" textLength="60.0" lengthAdjust="spacingAndGlyphs">4.7～<tspan class="s">10</tspan>K</text>
<text class="c" x="457.34" y="918.88" font-size="15.8" textLength="45.32" lengthAdjust="spacingAndGlyphs">电位器</text>
<text class="c" x="541.14" y="918.88" font-size="15.8" textLength="45.32" lengthAdjust="spacingAndGlyphs">电位器</text>
<text class="t" y="46.9" font-size="21.1"><tspan class="tl" font-size="23.21" x="50.7" textLength="10.45" lengthAdjust="spacingAndGlyphs">3</tspan><tspan x="63.55 84.65 106.75 128.85 150.95">、单相控制</tspan><tspan class="tl" font-size="23.21" x="172.25" textLength="32.55" lengthAdjust="spacingAndGlyphs">KZ1</tspan><tspan x="204.2 228.3 250.4 272.5 294.6 316.7 338.8 362.8">（半控桥式整流）</tspan></text>
<text class="t" y="476.4" font-size="21.1"><tspan class="tl" font-size="23.21" x="24.9" textLength="10.22" lengthAdjust="spacingAndGlyphs">4</tspan><tspan x="36.3 57.95 79.6 101.25 122.9">、三相全控</tspan><tspan class="tl" font-size="23.21" x="143.97" textLength="31.87" lengthAdjust="spacingAndGlyphs">KP3</tspan><tspan x="175.03 199.48 221.13 242.78 264.43 286.07 307.72 329.37 351.02 372.67 394.12 415.17 436.82 458.47 480.12">（单向可控硅反并联，△形接法或</tspan><tspan class="tl" font-size="23.21" x="501.2" textLength="10.22" lengthAdjust="spacingAndGlyphs">Y</tspan><tspan x="512.6 534.25 555.9 577.55 599.2 620.85 642.5">形接法星点不接</tspan><tspan class="tl" font-size="23.21" x="663.57" textLength="10.22" lengthAdjust="spacingAndGlyphs">N</tspan><tspan x="676.47">）</tspan></text>
<text class="t" y="1037.3" font-size="19.6"><tspan class="tl" font-size="21.56" x="50.3" textLength="9.4" lengthAdjust="spacingAndGlyphs">5</tspan><tspan x="60.8 80.8 100.8 120.8 140.8">、三相全控</tspan><tspan class="tl" font-size="21.56" x="160.3" textLength="29.4" lengthAdjust="spacingAndGlyphs">KS3</tspan><tspan x="188.8 210.8 230.8 250.8 270.8 290.8 311.6 330.8 350.8 370.8 390.8 410.8">（双向可控硅，△形接法或</tspan><tspan class="tl" font-size="21.56" x="430.3" textLength="9.4" lengthAdjust="spacingAndGlyphs">Y</tspan><tspan x="440.8 460.8 480.8 500.8 520.8 540.8 560.8">形接法星点不接</tspan><tspan class="tl" font-size="21.56" x="580.3" textLength="9.4" lengthAdjust="spacingAndGlyphs">N</tspan><tspan x="592.5">）</tspan></text>
</g>
</svg>
</body></html>
